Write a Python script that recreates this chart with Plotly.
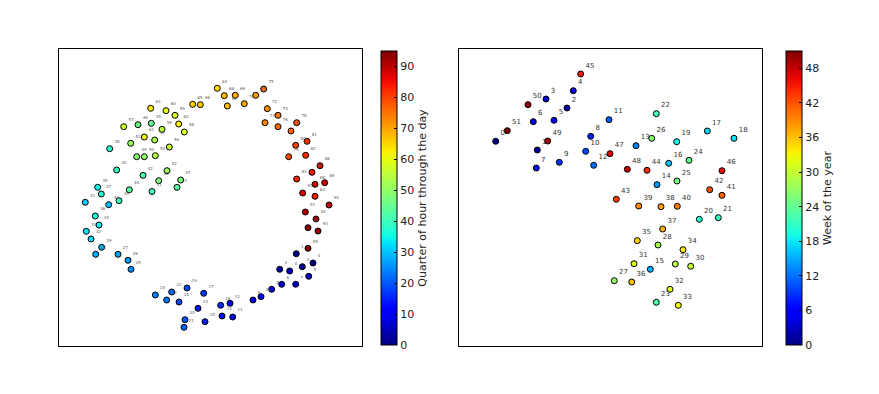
import numpy as np
import plotly.graph_objects as go

# ---------------- data ----------------
# Left panel: quarter of hour through the day (0..95)
day_x = [313.0, 296.3, 302.3, 279.7, 289.7, 308.7, 281.7, 295.7, 271.7, 253.0,
         261.0, 232.7, 230.0, 222.0, 198.0, 205.0, 220.7, 203.7, 179.0, 187.0,
         185.0, 184.0, 171.7, 166.7, 155.3, 131.0, 128.0, 118.0, 95.7, 101.7,
         108.7, 85.3, 91.0, 86.3, 99.0, 97.7, 95.3, 101.3, 109.7, 119.0,
         116.7, 152.0, 143.0, 177.0, 129.3, 151.3, 138.0, 180.7, 158.7, 136.7,
         144.3, 130.7, 167.0, 154.7, 155.3, 162.0, 169.3, 123.7, 184.3, 175.0,
         166.0, 144.3, 178.7, 150.7, 217.3, 192.7, 200.3, 227.3, 224.3, 235.3,
         244.3, 255.7, 267.3, 265.0, 278.0, 263.7, 278.0, 291.0, 296.7, 288.7,
         295.7, 307.0, 305.7, 296.7, 315.0, 312.0, 320.0, 302.7, 315.0, 324.7,
         329.0, 305.3, 316.0, 318.0, 308.0, 308.0]
day_y = [263.0, 253.7, 266.7, 269.3, 271.0, 276.3, 284.3, 284.3, 289.3, 300.0,
         296.7, 317.0, 303.3, 316.0, 308.3, 321.7, 305.3, 293.3, 302.0, 288.0,
         319.7, 327.3, 292.0, 300.0, 295.0, 269.3, 260.3, 254.3, 254.3, 247.3,
         204.7, 202.3, 239.0, 231.3, 225.0, 187.3, 216.0, 194.0, 148.7, 200.7,
         170.0, 191.5, 175.3, 187.3, 189.8, 123.3, 124.7, 180.0, 180.7, 156.7,
         156.7, 143.3, 170.7, 140.0, 155.7, 129.3, 147.0, 126.7, 132.0, 115.3,
         110.7, 137.0, 124.0, 108.3, 88.3, 104.3, 104.7, 106.0, 95.7, 95.3,
         103.7, 95.3, 108.7, 122.7, 115.3, 89.0, 126.7, 131.0, 122.7, 156.7,
         145.3, 141.3, 155.3, 179.0, 196.3, 172.3, 165.7, 193.0, 184.3, 182.7,
         205.0, 212.0, 219.0, 231.0, 227.7, 248.3]
day_labels = [str(i) for i in range(96)]

# Right panel: week of the year (0..51)
week_x = [495.7, 537.3, 567.0, 546.0, 573.3, 554.0, 533.3, 536.3, 590.7, 559.3,
          585.7, 609.0, 593.7, 636.0, 657.0, 650.3, 668.7, 707.3, 734.0, 676.7,
          699.3, 718.3, 656.3, 656.3, 689.0, 677.0, 651.7, 614.3, 658.0, 675.3,
          690.7, 634.0, 670.0, 678.3, 683.0, 637.3, 631.7, 662.7, 661.0, 638.7,
          677.3, 722.0, 709.7, 616.3, 647.0, 580.7, 722.0, 610.0, 627.3, 547.7,
          528.0, 507.3]
week_y = [141.3, 150.0, 108.0, 99.0, 90.7, 120.3, 121.7, 168.0, 136.3, 162.3,
          151.3, 119.7, 165.3, 145.7, 184.7, 269.3, 163.3, 131.0, 138.3, 141.7,
          219.3, 217.7, 113.7, 302.3, 160.3, 181.0, 138.3, 280.7, 245.0, 264.0,
          266.3, 263.7, 289.3, 305.3, 249.7, 240.7, 282.0, 229.0, 206.7, 206.0,
          206.3, 195.3, 189.7, 199.3, 170.3, 74.0, 170.7, 153.7, 169.3, 141.0,
          104.7, 130.7]
week_labels = [str(i) for i in range(52)]

day_ticks = [0, 10, 20, 30, 40, 50, 60, 70, 80, 90]
week_ticks = [0, 6, 12, 18, 24, 30, 36, 42, 48]

# ---------------- matplotlib "jet" colormap ----------------
def jet_scale(n=33):
    t = np.linspace(0, 1, n)
    r = np.interp(t, [0, 0.35, 0.66, 0.89, 1], [0, 0, 1, 1, 0.5])
    g = np.interp(t, [0, 0.125, 0.375, 0.64, 0.91, 1], [0, 0, 1, 1, 0, 0])
    b = np.interp(t, [0, 0.11, 0.34, 0.65, 1], [0.5, 1, 1, 0, 0])
    return [[float(tt), f"rgb({int(round(rr*255))},{int(round(gg*255))},{int(round(bb*255))})"]
            for tt, rr, gg, bb in zip(t, r, g, b)]

JET = jet_scale()

W, H = 879, 394
def px(x):
    return x / W
def py(y):
    return 1 - y / H

fig = go.Figure()

fig.add_trace(go.Scatter(
    x=day_x, y=day_y, mode="markers+text", text=day_labels,
    textposition="top right",
    textfont=dict(size=4, color="#555555", family="DejaVu Sans"),
    marker=dict(size=6, color=list(range(96)), colorscale=JET, cmin=0, cmax=95,
                line=dict(color="black", width=1),
                colorbar=dict(
                    x=px(381), xanchor="left", xpad=0, ypad=0,
                    y=py(345), yanchor="bottom", len=(345 - 51) / H, lenmode="fraction",
                    thickness=16, thicknessmode="pixels",
                    outlinecolor="black", outlinewidth=1,
                    tickvals=day_ticks, ticks="inside", ticklen=3, tickcolor="black",
                    tickfont=dict(size=11, color="#222222", family="DejaVu Sans"),
                    title=dict(text="Quarter of hour through the day", side="right",
                               font=dict(size=11, color="#222222", family="DejaVu Sans")),
                )),
    xaxis="x", yaxis="y", showlegend=False, cliponaxis=False))

fig.add_trace(go.Scatter(
    x=week_x, y=week_y, mode="markers+text", text=week_labels,
    textposition="top right",
    textfont=dict(size=7, color="#333333", family="DejaVu Sans"),
    marker=dict(size=6, color=list(range(52)), colorscale=JET, cmin=0, cmax=51,
                line=dict(color="black", width=1),
                colorbar=dict(
                    x=px(786), xanchor="left", xpad=0, ypad=0,
                    y=py(345), yanchor="bottom", len=(345 - 51) / H, lenmode="fraction",
                    thickness=16, thicknessmode="pixels",
                    outlinecolor="black", outlinewidth=1,
                    tickvals=week_ticks, ticks="inside", ticklen=3, tickcolor="black",
                    tickfont=dict(size=11, color="#222222", family="DejaVu Sans"),
                    title=dict(text="Week of the year", side="right",
                               font=dict(size=11, color="#222222", family="DejaVu Sans")),
                )),
    xaxis="x2", yaxis="y2", showlegend=False, cliponaxis=False))

axis_common = dict(showgrid=False, zeroline=False, showticklabels=False, ticks="",
                   showline=True, linecolor="black", linewidth=1, mirror=True)

fig.update_layout(
    width=W, height=H, margin=dict(l=0, r=0, t=0, b=0),
    paper_bgcolor="white", plot_bgcolor="white",
    xaxis=dict(domain=[px(59), px(362)], range=[59, 362], anchor="y", **axis_common),
    yaxis=dict(domain=[py(346), py(49)], range=[346, 49], anchor="x", **axis_common),
    xaxis2=dict(domain=[px(459), px(762)], range=[459, 762], anchor="y2", **axis_common),
    yaxis2=dict(domain=[py(346), py(49)], range=[346, 49], anchor="x2", **axis_common),
)

fig.write_html("out.html", config={"displayModeBar": False},
               post_script="document.body.style.margin='0px';document.body.style.overflow='hidden';")
